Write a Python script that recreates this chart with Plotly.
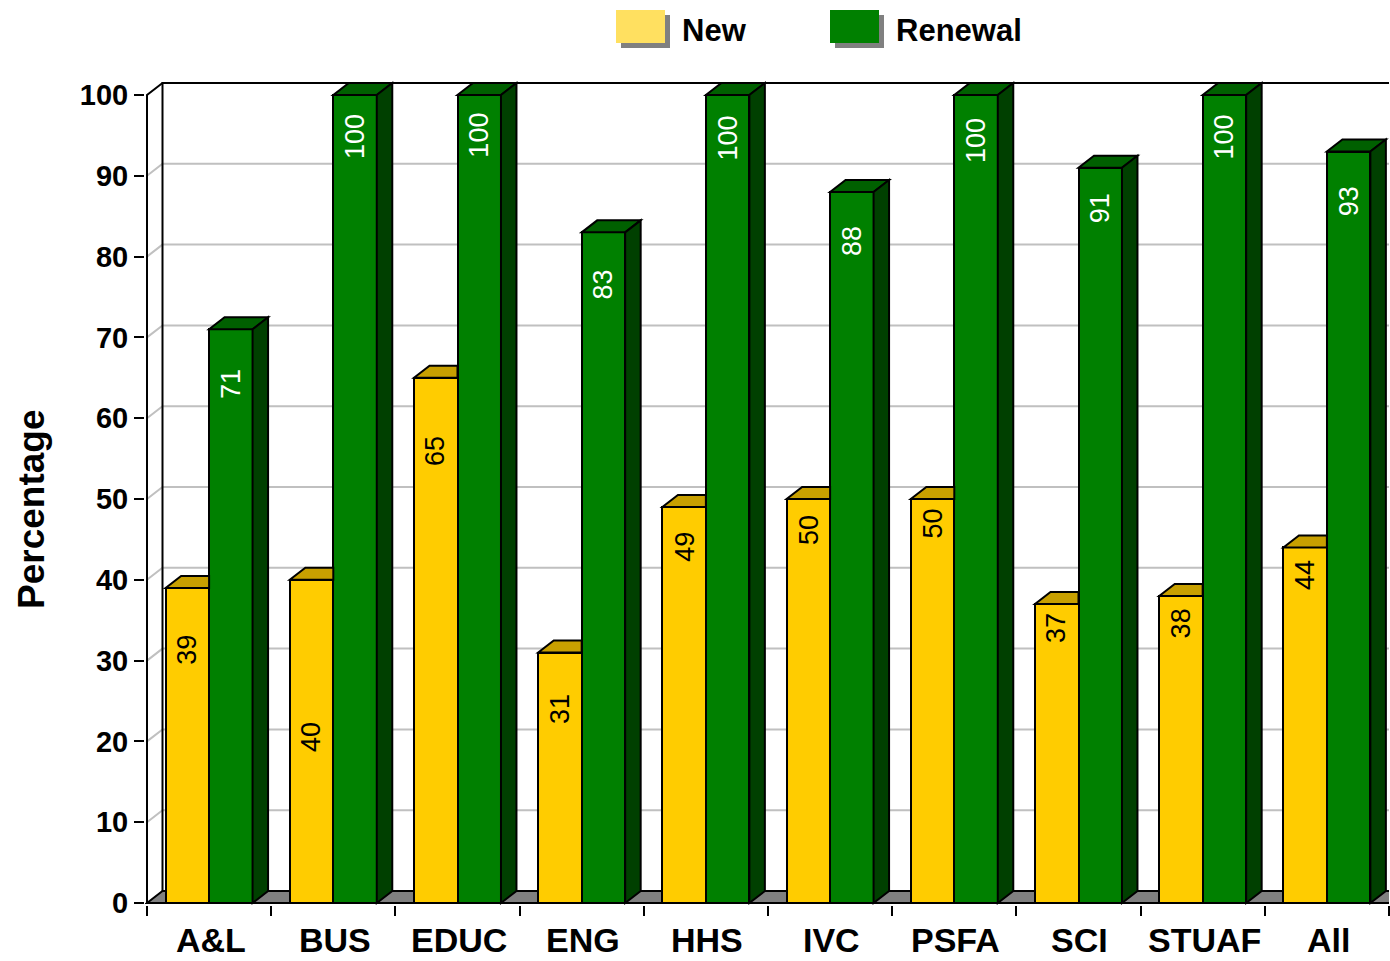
import plotly.graph_objects as go

# ---------------- data ----------------
categories = ["A&L", "BUS", "EDUC", "ENG", "HHS", "IVC", "PSFA", "SCI", "STUAF", "All"]
new_pct = [39, 40, 65, 31, 49, 50, 50, 37, 38, 44]
renewal_pct = [71, 100, 100, 83, 100, 88, 100, 91, 100, 93]
series_names = ["New", "Renewal"]
y_tick_vals = [0, 10, 20, 30, 40, 50, 60, 70, 80, 90, 100]
y_title = "Percentage"

# label placement (centre of each rotated value label, axis units)
new_label_y = [31.4, 20.5, 55.9, 24.0, 44.1, 46.2, 46.9, 34.0, 34.6, 40.6]
renewal_label_y = [64.2, 94.8, 95.0, 76.6, 94.7, 81.9, 94.3, 86.0, 94.8, 86.8]

# ---------------- geometry / style ----------------
W, H = 1390, 961
CAT_PX = 124.2          # pixels per category
UNIT_PX = 8.08          # pixels per percentage point
ZERO_PX = 903           # pixel row of value 0
TOP_PX = 80             # top of plot area
PAD = 2                 # pixels of padding so edge lines are not clipped
n = len(categories)
ML = 147 - PAD
MR = 1
MT = TOP_PX
MB = H - (ZERO_PX + PAD)
PW = W - ML - MR
PH = H - MT - MB
X_RANGE = [-0.5 - PAD / CAT_PX, n - 0.5]
Y_RANGE = [-PAD / UNIT_PX, (ZERO_PX - TOP_PX) / UNIT_PX]
DX = 15.5 / CAT_PX      # 3-D depth offset (x)
DY = 12 / UNIT_PX       # 3-D depth offset (y)
BAR_W = 0.35

YEL, YEL_TOP, YEL_LEG = "#FFCC00", "#C8A000", "#FFE060"
GRN, GRN_TOP, GRN_SIDE = "#008000", "#006000", "#004000"
FLOOR = "#808080"
GRID = "#C0C0C0"
FONT = "Liberation Sans"


def px_to_paper_x(p):
    return (p - ML) / PW


def px_to_paper_y(p):
    return (H - MB - p) / PH


def path(points):
    return "M " + " L ".join(f"{x},{y}" for x, y in points) + " Z"


fig = go.Figure()
xs = list(range(n))

fig.add_trace(go.Bar(x=xs, y=new_pct, width=BAR_W, offset=-BAR_W, name=series_names[0],
                     marker=dict(color=YEL, line=dict(color="black", width=2)),
                     showlegend=False, hoverinfo="skip"))
fig.add_trace(go.Bar(x=xs, y=renewal_pct, width=BAR_W, offset=0, name=series_names[1],
                     marker=dict(color=GRN, line=dict(color="black", width=2)),
                     showlegend=False, hoverinfo="skip"))

shapes = []
xl, xr = -0.5, n - 0.5
# floor
shapes.append(dict(type="path", xref="x", yref="y", layer="below",
                   path=path([(xl, 0), (xl + DX, DY), (xr + DX, DY), (xr, 0)]),
                   fillcolor=FLOOR, line=dict(color="black", width=2)))
# grid lines on back wall
for v in y_tick_vals[1:-1]:
    shapes.append(dict(type="path", xref="x", yref="y", layer="below",
                       path=f"M {xl},{v} L {xl + DX},{v + DY} L {xr + DX},{v + DY}",
                       line=dict(color=GRID, width=2)))
top = y_tick_vals[-1]
# back wall outline
shapes.append(dict(type="path", xref="x", yref="y", layer="below",
                   path=f"M {xl + DX},{DY} L {xl + DX},{top + DY} L {xr + DX},{top + DY}",
                   line=dict(color="black", width=2)))
# front value axis
shapes.append(dict(type="path", xref="x", yref="y", layer="below",
                   path=f"M {xl},0 L {xl},{top} L {xl + DX},{top + DY}",
                   line=dict(color="black", width=2)))

# 3-D faces of bars
for i in range(n):
    v = new_pct[i]
    a, b = i - BAR_W, i
    if renewal_pct[i] >= v + DY:
        pts = [(a, v), (b, v), (b, v + DY), (a + DX, v + DY)]
    else:
        pts = [(a, v), (b, v), (b + DX, v + DY), (a + DX, v + DY)]
    shapes.append(dict(type="path", xref="x", yref="y", layer="above", path=path(pts),
                       fillcolor=YEL_TOP, line=dict(color="black", width=2)))
    g = renewal_pct[i]
    a, b = i, i + BAR_W
    shapes.append(dict(type="path", xref="x", yref="y", layer="above",
                       path=path([(a, g), (b, g), (b + DX, g + DY), (a + DX, g + DY)]),
                       fillcolor=GRN_TOP, line=dict(color="black", width=2)))
    shapes.append(dict(type="path", xref="x", yref="y", layer="above",
                       path=path([(b, 0), (b, g), (b + DX, g + DY), (b + DX, DY)]),
                       fillcolor=GRN_SIDE, line=dict(color="black", width=2)))

annotations = []
for i in range(n):
    annotations.append(dict(x=i - BAR_W / 2, y=new_label_y[i], xref="x", yref="y",
                            text=str(new_pct[i]), textangle=-90, showarrow=False,
                            font=dict(family=FONT, size=27, color="black")))
    annotations.append(dict(x=i + BAR_W / 2, y=renewal_label_y[i], xref="x", yref="y",
                            text=str(renewal_pct[i]), textangle=-90, showarrow=False,
                            font=dict(family=FONT, size=27, color="white")))
    annotations.append(dict(x=i + 0.012, y=px_to_paper_y(940), xref="x", yref="paper",
                            xanchor="center", yanchor="middle", borderpad=0,
                            text=f"<b>{categories[i]}</b>", showarrow=False,
                            font=dict(family=FONT, size=34, color="black")))

annotations.append(dict(x=px_to_paper_x(31), y=px_to_paper_y(509), xref="paper", yref="paper",
                        xanchor="center", yanchor="middle",
                        text=f"<b>{y_title}</b>", textangle=-90, showarrow=False,
                        font=dict(family=FONT, size=37, color="black")))

# legend (drawn manually to match the boxed swatches with shadows)
leg_colors = [YEL_LEG, GRN]
leg_swatch_px = [616, 830]
for name, col, sx in zip(series_names, leg_colors, leg_swatch_px):
    shapes.append(dict(type="rect", xref="paper", yref="paper",
                       x0=px_to_paper_x(sx + 5), x1=px_to_paper_x(sx + 54),
                       y0=px_to_paper_y(48), y1=px_to_paper_y(15),
                       fillcolor=FLOOR, line=dict(width=0)))
    shapes.append(dict(type="rect", xref="paper", yref="paper",
                       x0=px_to_paper_x(sx), x1=px_to_paper_x(sx + 49),
                       y0=px_to_paper_y(43), y1=px_to_paper_y(10),
                       fillcolor=col, line=dict(width=0)))
    annotations.append(dict(x=px_to_paper_x(sx + 64), y=px_to_paper_y(30),
                            xref="paper", yref="paper", xanchor="left", yanchor="middle",
                            text=f"<b>{name}</b>", showarrow=False,
                            font=dict(family=FONT, size=31, color="black")))

fig.update_layout(
    width=W, height=H,
    margin=dict(l=ML, r=MR, t=MT, b=MB, pad=0),
    paper_bgcolor="white", plot_bgcolor="white",
    barmode="overlay", bargap=0,
    shapes=shapes, annotations=annotations,
    xaxis=dict(range=X_RANGE, showgrid=False, zeroline=False, showline=False,
               tickmode="array", tickvals=[k - 0.5 for k in range(n + 1)],
               ticks="outside", ticklen=10, tickwidth=2, tickcolor="black",
               showticklabels=False, fixedrange=True),
    yaxis=dict(range=Y_RANGE, showgrid=False, zeroline=False, showline=False,
               tickmode="array", tickvals=y_tick_vals,
               ticks="outside", ticklen=10, tickwidth=2, tickcolor="black",
               tickfont=dict(family=FONT, size=29, color="black", weight="bold"),
               fixedrange=True),
    showlegend=False,
)

fig.write_html(
    "out.html",
    config={"displayModeBar": False},
    post_script="document.body.style.margin='0';document.body.style.overflow='hidden';",
)
